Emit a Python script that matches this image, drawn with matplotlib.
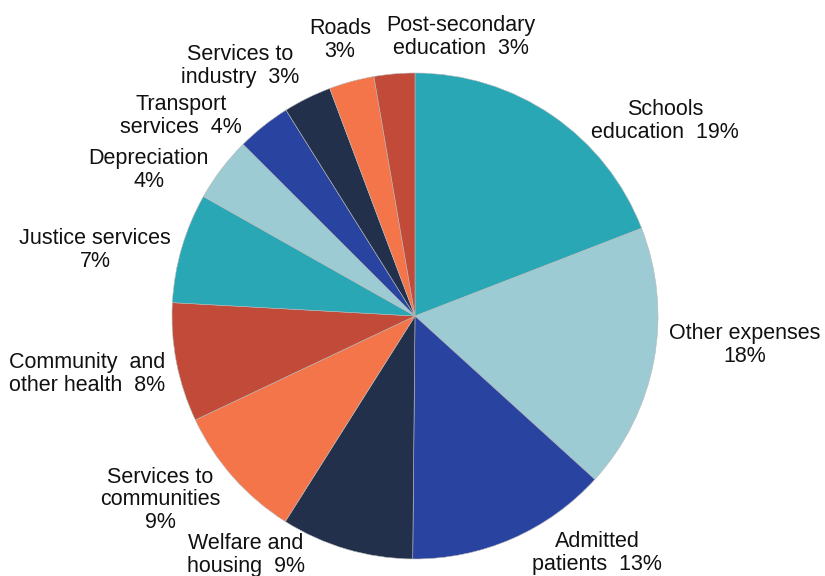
import matplotlib.pyplot as plt

plt.rcParams['font.family'] = ['Liberation Sans', 'DejaVu Sans']

# ----------
# expenses by purpose, share of total (%)
# ----------
categories = [
    "Schools\neducation", "Other expenses", "Admitted\npatients",
    "Welfare and\nhousing", "Services to\ncommunities", "Community  and\nother health",
    "Justice services", "Depreciation", "Transport\nservices",
    "Services to\nindustry", "Roads", "Post-secondary\neducation",
]
shares = [19.1, 17.6, 13.4, 8.8, 9.0, 7.9, 7.3, 4.3, 3.6, 3.2, 3.0, 2.7]

# how the share is joined to the name: same line or new line
joins = ["  ", "\n", "  ", "  ", "\n", "  ", "\n", "\n", "  ", "  ", "\n", "  "]

# label centres, in pie-radius units
label_xy = [
    (1.029, 0.802), (1.358, -0.119), (0.749, -0.975), (-0.695, -0.984),
    (-1.049, -0.757), (-1.350, -0.239), (-1.317, 0.272), (-1.095, 0.601),
    (-0.963, 0.823), (-0.720, 1.029), (-0.309, 1.136), (0.189, 1.148),
]

teal, light, blue, navy, orange, red = ("#2AA7B4", "#9DCBD3", "#2944A0",
                                        "#22304C", "#F47549", "#C24A39")
colors = [teal, light, blue, navy, orange, red] * 2

fig = plt.figure(figsize=(8.25, 5.76), dpi=100)
ax = fig.add_axes([0, 0, 1, 1])

ax.pie(shares, colors=colors, startangle=90, counterclock=False,
       radius=1.0, center=(0, 0),
       wedgeprops=dict(edgecolor="#b8b8b8", linewidth=0.4))

for name, val, sep, (x, y) in zip(categories, shares, joins, label_xy):
    ax.text(x, y, f"{name}{sep}{val:.0f}%", ha="center", va="center",
            multialignment="center", fontsize=15.5, color="#111111",
            linespacing=1.08)

ax.set_xlim(-415 / 243, 410 / 243)
ax.set_ylim(-260 / 243, 316 / 243)
ax.set_aspect("equal")
ax.axis("off")

fig.savefig("out.png", dpi=100)
